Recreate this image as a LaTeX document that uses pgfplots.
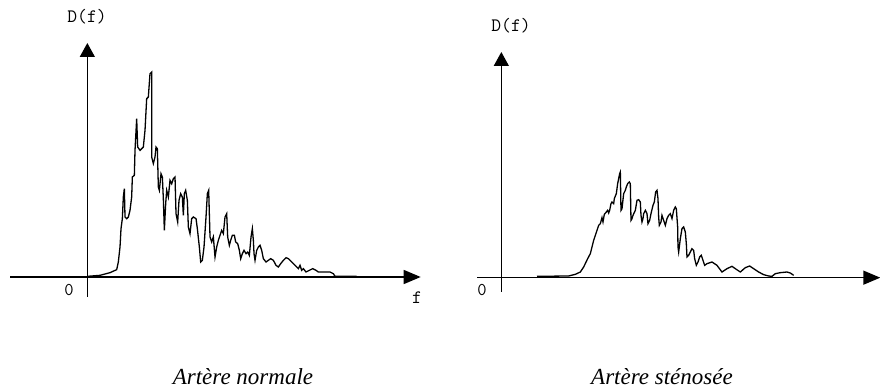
\documentclass[border=0pt]{standalone}
\usepackage{pgfplots}
\pgfplotsset{compat=1.18}
\usepackage{pgfplotstable}
\usepackage{fontspec}
\setmainfont{Liberation Serif}
\usetikzlibrary{arrows.meta}

\pgfplotstableread{
x y
0 2
38 5
68 13
88 22
93 45
98 90
101 145
105 175
108 240
111 265
113 180
118 175
123 180
128 200
133 240
135 300
141 305
143 380
148 475
151 390
158 380
163 385
168 390
173 440
178 535
183 540
188 610
193 615
193 360
198 340
203 360
206 390
210 385
213 270
216 260
221 310
225 300
228 235
231 140
235 220
238 260
243 240
248 290
253 280
258 295
263 300
266 190
271 165
275 230
280 250
285 240
288 185
291 250
295 260
300 230
303 150
308 130
313 175
318 180
326 175
330 145
336 90
340 45
345 50
350 90
356 180
360 250
364 260
368 120
373 105
378 120
383 60
388 90
393 110
398 125
403 140
408 130
413 180
418 190
421 120
426 95
430 110
435 125
441 125
445 105
451 100
456 80
460 55
465 70
470 80
476 70
481 75
486 65
491 120
495 145
498 110
500 70
503 50
508 80
513 90
518 95
523 80
528 55
536 45
543 50
550 55
558 50
566 35
573 30
580 40
588 50
596 58
603 55
613 45
623 35
633 25
638 35
643 20
648 25
656 15
666 20
676 25
686 20
693 15
708 15
728 15
738 10
743 2
778 2
808 2
}\normaltab

\pgfplotstableread{
x y
107 4
202 5
222 10
237 17
247 32
259 57
267 72
277 112
287 142
292 157
297 162
302 180
305 167
309 190
315 197
319 202
322 194
325 202
329 222
332 227
337 222
339 237
345 252
349 282
352 297
355 312
357 317
359 202
362 207
367 252
372 262
375 272
379 282
384 287
387 282
389 172
392 177
395 187
402 202
407 232
412 234
417 227
419 187
422 167
425 177
427 192
432 202
437 192
440 162
445 172
449 192
455 217
459 227
463 257
467 262
470 237
472 182
474 157
479 167
482 187
487 172
492 157
497 177
502 187
507 192
512 177
517 202
522 212
525 207
529 152
530 92
532 77
537 117
542 147
547 152
552 137
555 102
557 62
562 67
567 77
572 87
577 82
580 57
585 37
590 47
595 62
600 67
605 52
610 37
617 42
632 47
647 37
662 17
677 27
692 34
702 27
717 17
732 30
745 35
757 27
772 17
787 9
802 5
812 4
822 12
837 15
857 17
867 14
877 7
}\stenotab

\pgfplotsset{myax/.style={
  axis lines=middle, scale only axis,
  xtick=\empty, ytick=\empty,
  axis line style={line width=1.4bp, black},
  every inner x axis line/.append style={-{Triangle[length=17bp,width=14bp]}},
  every inner y axis line/.append style={-{Triangle[length=14bp,width=15bp]}},
  anchor=south west, clip=false,
}}

\begin{document}
\begin{tikzpicture}[x=1bp,y=1bp]
\begin{axis}[myax, at={(10bp,93bp)}, width=410.7bp, height=254bp,
  xmin=-232, xmax=1000, ymin=-60, ymax=702]
\addplot[black, line width=1.3bp, no marks] table[x=x,y=y] {\normaltab};
\end{axis}
\begin{axis}[myax, at={(477bp,98bp)}, width=403.3bp, height=240bp,
  xmin=-73, xmax=1137, ymin=-43, ymax=677]
\addplot[black, line width=1.3bp, no marks] table[x=x,y=y] {\stenotab};
\end{axis}
\node[font=\ttfamily\fontsize{19bp}{19bp}\selectfont] at (87bp,373bp) {D(f)};
\node[font=\ttfamily\fontsize{19bp}{19bp}\selectfont] at (511bp,364bp) {D(f)};
\node[font=\ttfamily\fontsize{18bp}{18bp}\selectfont] at (69bp,100bp) {0};
\node[font=\ttfamily\fontsize{18bp}{18bp}\selectfont] at (482bp,100bp) {0};
\node[font=\ttfamily\fontsize{19bp}{19bp}\selectfont] at (417bp,92bp) {f};
\node[font=\itshape\fontsize{23bp}{23bp}\selectfont, anchor=base] at (243bp,6bp) {Artère normale};
\node[font=\itshape\fontsize{23bp}{23bp}\selectfont, anchor=base] at (662bp,6bp) {Artère sténosée};
\pgfresetboundingbox
\useasboundingbox (0,0) rectangle (880bp,390bp);
\end{tikzpicture}
\end{document}
